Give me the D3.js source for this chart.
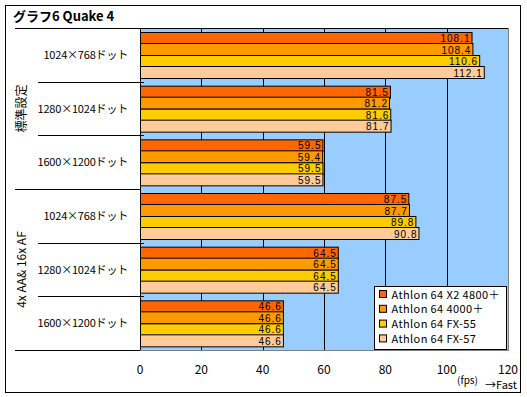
<!DOCTYPE html>
<html>
<head>
<meta charset="utf-8">
<script src="https://cdn.jsdelivr.net/npm/d3@7"></script>
<style>
  body { margin: 0; background: #fff; }
</style>
</head>
<body>
<script>
// chart data
const groups = ['標準設定', '4x AA& 16x AF']
const resolutions = ['1024×768ドット', '1280×1024ドット', '1600×1200ドット']
const cpus = ['Athlon 64 X2 4800＋', 'Athlon 64 4000＋', 'Athlon 64 FX-55', 'Athlon 64 FX-57']
const colors = ['#FF6600', '#FF9900', '#FFCC00', '#FFCC99']
const xTicks = [0, 20, 40, 60, 80, 100, 120]

// values per row (group x resolution), one per cpu
const rowValues = [
  [108.1, 108.4, 110.6, 112.1],
  [81.5, 81.2, 81.6, 81.7],
  [59.5, 59.4, 59.5, 59.5],
  [87.5, 87.7, 89.8, 90.8],
  [64.5, 64.5, 64.5, 64.5],
  [46.6, 46.6, 46.6, 46.6]
]

const width = 527
const height = 397
const plot = { left: 140, top: 28, right: 508, bottom: 350 }

const rows = []
groups.forEach((g, gi) => {
  resolutions.forEach((r, ri) => {
    rows.push({ id: gi + '-' + ri, group: g, label: r, values: rowValues[gi * 3 + ri] })
  })
})

const svg = d3.select('body').append('svg')
  .attr('width', width)
  .attr('height', height)
  .attr('font-family', '"Noto Sans CJK JP", "DejaVu Sans", sans-serif')

// outer frame
svg.append('rect')
  .attr('x', 5.5).attr('y', 5.5)
  .attr('width', 515).attr('height', 387)
  .attr('fill', '#fff')
  .attr('stroke', '#000')

svg.append('text')
  .attr('x', 13).attr('y', 21)
  .attr('font-size', '13px')
  .attr('font-weight', 'bold')
  .text('グラフ6 Quake 4')

const x = d3.scaleLinear()
  .domain([0, 120])
  .range([plot.left, plot.right])

const y = d3.scaleBand()
  .domain(rows.map(d => d.id))
  .range([plot.top, plot.bottom])

const yInner = d3.scaleBand()
  .domain(d3.range(cpus.length))
  .range([0, y.bandwidth()])
  .paddingOuter(0.31)

// plot background
svg.append('rect')
  .attr('x', plot.left).attr('y', plot.top)
  .attr('width', plot.right - plot.left)
  .attr('height', plot.bottom - plot.top)
  .attr('fill', '#99CCFF')

// grid lines
svg.append('g')
  .selectAll('line')
  .data(xTicks.slice(1, -1))
  .enter().append('line')
  .attr('x1', d => Math.round(x(d)) + 0.5)
  .attr('x2', d => Math.round(x(d)) + 0.5)
  .attr('y1', plot.top)
  .attr('y2', plot.bottom)
  .attr('stroke', '#000')

// plot border right / bottom (grey)
svg.append('path')
  .attr('d', `M${plot.right + 0.5},${plot.top} V${plot.bottom + 0.5} H${plot.left}`)
  .attr('fill', 'none')
  .attr('stroke', '#808080')

// bars
const row = svg.append('g')
  .selectAll('g')
  .data(rows)
  .enter().append('g')
  .attr('transform', d => `translate(0,${y(d.id)})`)

row.selectAll('rect')
  .data(d => d.values)
  .enter().append('rect')
  .attr('x', x(0) + 0.5)
  .attr('y', (d, i) => Math.round(yInner(i)) + 0.5)
  .attr('width', d => x(d) - x(0))
  .attr('height', Math.round(yInner.bandwidth()))
  .attr('fill', (d, i) => colors[i])
  .attr('stroke', '#000')

row.selectAll('text')
  .data(d => d.values)
  .enter().append('text')
  .attr('x', d => x(d) - 1)
  .attr('y', (d, i) => yInner(i) + yInner.bandwidth() / 2 + 4.5)
  .attr('text-anchor', 'end')
  .attr('font-size', '10px')
  .attr('letter-spacing', '1px')
  .attr('font-family', 'Liberation Sans')
  .attr('fill', '#000')
  .text(d => d.toFixed(1))

// y axis line
svg.append('line')
  .attr('x1', plot.left + 0.5).attr('x2', plot.left + 0.5)
  .attr('y1', plot.top).attr('y2', plot.bottom)
  .attr('stroke', '#000')

// row separators
const seps = d3.range(rows.length + 1)
svg.append('g')
  .selectAll('line')
  .data(seps)
  .enter().append('line')
  .attr('x1', i => i % 3 === 0 ? 15 : 38)
  .attr('x2', i => i % 3 === 0 ? plot.left : plot.left + 4)
  .attr('y1', i => Math.round(plot.top + i * y.step()) + 0.5)
  .attr('y2', i => Math.round(plot.top + i * y.step()) + 0.5)
  .attr('stroke', '#000')

svg.append('line')
  .attr('x1', plot.left).attr('x2', plot.right)
  .attr('y1', plot.top + 0.5).attr('y2', plot.top + 0.5)
  .attr('stroke', '#000')

// row labels
svg.append('g')
  .selectAll('text')
  .data(rows)
  .enter().append('text')
  .attr('x', 128)
  .attr('y', d => y(d.id) + y.bandwidth() / 2 + 4)
  .attr('text-anchor', 'end')
  .attr('font-size', '11px')
  .attr('letter-spacing', '-0.2px')
  .text(d => d.label)

// group labels (rotated)
svg.append('g')
  .selectAll('text')
  .data(groups)
  .enter().append('text')
  .attr('transform', (d, i) => `translate(26,${plot.top + (i * 3 + 1.5) * y.step()}) rotate(-90)`)
  .attr('text-anchor', 'middle')
  .attr('font-size', '12px')
  .text(d => d)

// x tick labels
svg.append('g')
  .selectAll('text')
  .data(xTicks)
  .enter().append('text')
  .attr('x', d => x(d))
  .attr('y', 374)
  .attr('text-anchor', 'middle')
  .attr('font-size', '12px')
  .text(d => d)

svg.append('text')
  .attr('x', 457).attr('y', 384)
  .attr('font-size', '10px')
  .text('(fps)')

svg.append('text')
  .attr('x', 485).attr('y', 389)
  .attr('font-size', '11px')
  .text('→Fast')

// legend
const legend = svg.append('g')
  .attr('transform', 'translate(374.5,286.5)')

legend.append('rect')
  .attr('width', 132).attr('height', 63)
  .attr('fill', '#fff')
  .attr('stroke', '#000')

const item = legend.selectAll('g')
  .data(cpus)
  .enter().append('g')
  .attr('transform', (d, i) => `translate(5,${8 + i * 14.8})`)

item.append('rect')
  .attr('x', 0).attr('y', -4)
  .attr('width', 7).attr('height', 7)
  .attr('fill', (d, i) => colors[i])
  .attr('stroke', '#000')

item.append('text')
  .attr('x', 12).attr('y', 4)
  .attr('font-size', '11px')
  .attr('letter-spacing', '0.4px')
  .text(d => d)
</script>
</body>
</html>
